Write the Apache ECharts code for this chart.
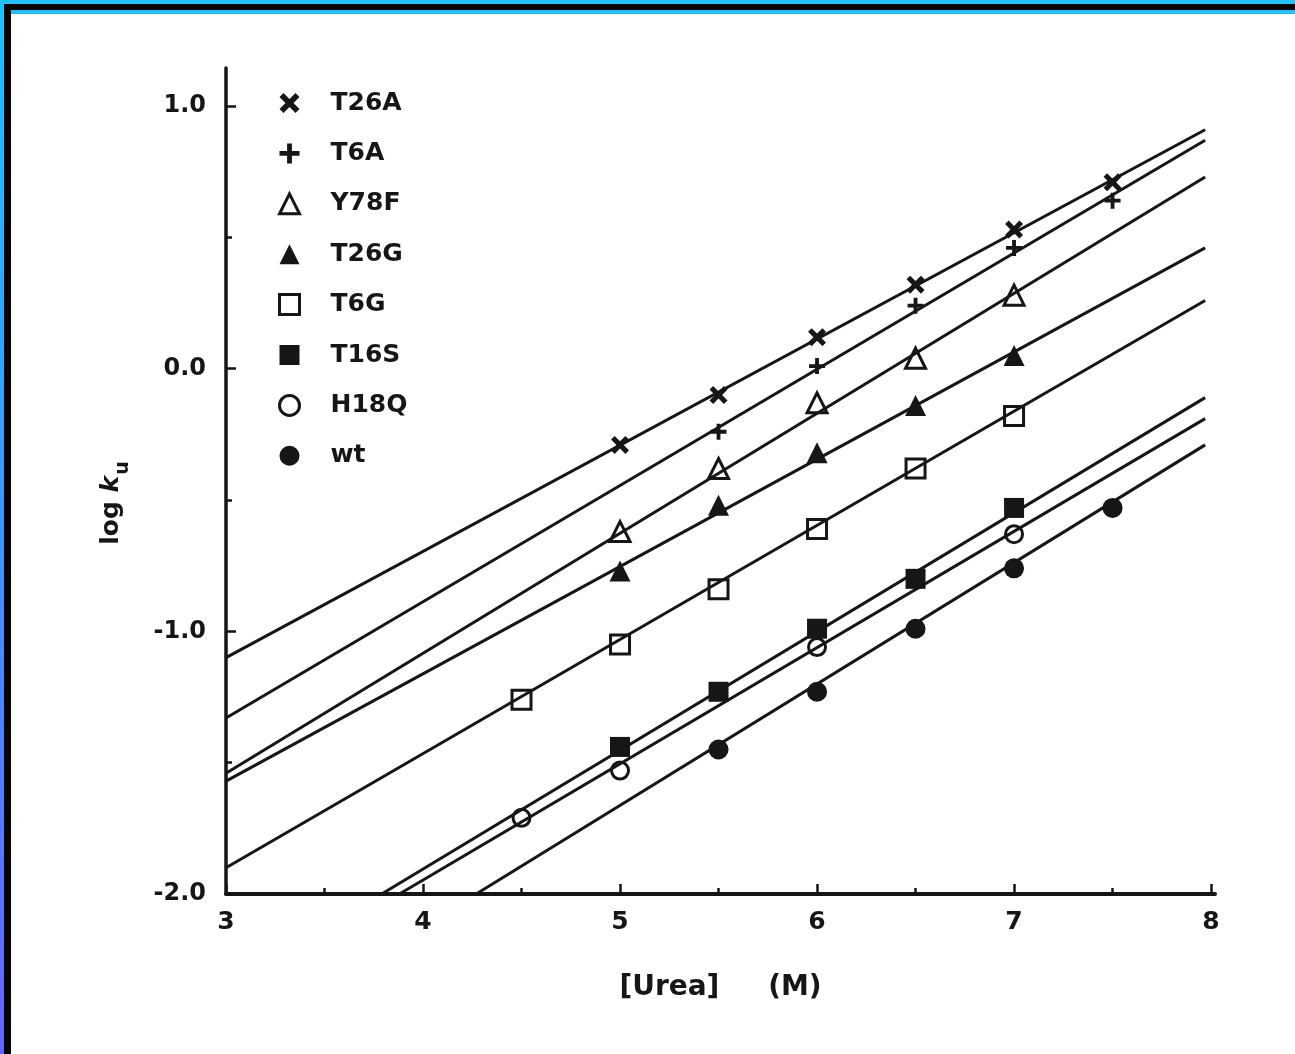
<!DOCTYPE html>
<html>
<head>
<meta charset="utf-8">
<script src="https://cdn.jsdelivr.net/npm/echarts@6/dist/echarts.min.js"></script>
<style>
  html, body { margin:0; padding:0; width:1295px; height:1054px; overflow:hidden; }
  body { background: linear-gradient(to bottom, #1ec2ff 0%, #3f95ff 50%, #6464ff 100%); position:relative; }
  #topbar { position:absolute; left:4px; top:4px; right:0; height:6px; background:#050505; }
  #leftbar { position:absolute; left:4px; top:4px; width:7px; bottom:0; background:#050505; }
  #panel { position:absolute; left:11px; top:14px; right:0; bottom:0; background:#ffffff; }
  #chart { position:absolute; left:0; top:0; width:1295px; height:1054px; }
</style>
</head>
<body>
<div id="topbar"></div>
<div id="leftbar"></div>
<div id="panel"></div>
<div id="chart"></div>
<script>
// ---- data ----
const xTickLabels = [3, 4, 5, 6, 7, 8];
const xMinorTicks = [3.5, 4.5, 5.5, 6.5, 7.5];
const yTickLabels = [-2, -1, 0, 1];
const yMinorTicks = [-1.5, -0.5, 0.5];

const seriesNames = ['T26A', 'T6A', 'Y78F', 'T26G', 'T6G', 'T16S', 'H18Q', 'wt'];

const T26A_x = [5, 5.5, 6, 6.5, 7, 7.5];
const T26A_y = [-0.29, -0.10, 0.12, 0.32, 0.53, 0.71];
const T6A_x  = [5.5, 6, 6.5, 7, 7.5];
const T6A_y  = [-0.24, 0.01, 0.24, 0.46, 0.64];
const Y78F_x = [5, 5.5, 6, 6.5, 7];
const Y78F_y = [-0.62, -0.38, -0.13, 0.04, 0.28];
const T26G_x = [5, 5.5, 6, 6.5, 7];
const T26G_y = [-0.77, -0.52, -0.32, -0.14, 0.05];
const T6G_x  = [4.5, 5, 5.5, 6, 6.5, 7];
const T6G_y  = [-1.26, -1.05, -0.84, -0.61, -0.38, -0.18];
const T16S_x = [5, 5.5, 6, 6.5, 7];
const T16S_y = [-1.44, -1.23, -0.99, -0.80, -0.53];
const H18Q_x = [4.5, 5, 6, 7];
const H18Q_y = [-1.71, -1.53, -1.06, -0.63];
const wt_x   = [5.5, 6, 6.5, 7, 7.5];
const wt_y   = [-1.45, -1.23, -0.99, -0.76, -0.53];

// fitted straight lines: start and end points (x, y)
const fitX0 = [3,     3,     3,     3,     3,     3.79,  3.88,  4.27];
const fitY0 = [-1.10, -1.33, -1.54, -1.57, -1.90, -2.00, -2.00, -2.00];
const fitX1 = [7.97,  7.97,  7.97,  7.97,  7.97,  7.97,  7.97,  7.97];
const fitY1 = [0.91,  0.87,  0.73,  0.46,  0.26,  -0.11, -0.19, -0.29];

// ---- styling ----
const INK = '#161616';
const FONT = 'DejaVu Sans';
const crossPath = 'path://M0,2 L2,0 L5,3 L8,0 L10,2 L7,5 L10,8 L8,10 L5,7 L2,10 L0,8 L3,5 Z';
const plusPath  = 'path://M3.8,0 L6.2,0 L6.2,3.8 L10,3.8 L10,6.2 L6.2,6.2 L6.2,10 L3.8,10 L3.8,6.2 L0,6.2 L0,3.8 L3.8,3.8 Z';
const hollow = { color: 'rgba(255,255,255,0)', borderColor: INK, borderWidth: 3, opacity: 1 };
const solid  = { color: INK, opacity: 1 };
const styles = {
  T26A: { symbol: crossPath, size: 18, item: solid, hollow: false },
  T6A:  { symbol: plusPath,  size: 16, item: solid, hollow: false },
  Y78F: { symbol: 'triangle', size: 20, item: hollow, hollow: true },
  T26G: { symbol: 'triangle', size: 21, item: solid, hollow: false },
  T6G:  { symbol: 'rect',     size: 19, item: hollow, hollow: true },
  T16S: { symbol: 'rect',     size: 20, item: solid, hollow: false },
  H18Q: { symbol: 'circle',   size: 17, item: hollow, hollow: true },
  wt:   { symbol: 'circle',   size: 20, item: solid, hollow: false }
};
const pts = {
  T26A: [T26A_x, T26A_y], T6A: [T6A_x, T6A_y], Y78F: [Y78F_x, Y78F_y], T26G: [T26G_x, T26G_y],
  T6G: [T6G_x, T6G_y], T16S: [T16S_x, T16S_y], H18Q: [H18Q_x, H18Q_y], wt: [wt_x, wt_y]
};

const series = [];
seriesNames.forEach((name, i) => {
  series.push({
    name: name + ' fit', type: 'line', silent: true, z: 2,
    xAxisIndex: 0, yAxisIndex: 0,
    showSymbol: false, symbol: 'none',
    lineStyle: { color: INK, width: 3 },
    data: [[fitX0[i], fitY0[i]], [fitX1[i], fitY1[i]]]
  });
});
seriesNames.forEach((name) => {
  const s = styles[name];
  const xs = pts[name][0], ys = pts[name][1];
  series.push({
    name: name, type: 'scatter', z: 4,
    xAxisIndex: 0, yAxisIndex: 0,
    symbol: s.symbol, symbolSize: s.size,
    itemStyle: s.item,
    emphasis: { disabled: true },
    data: xs.map((x, k) => [x, ys[k]])
  });
});

const legendData = seriesNames.map(name => (
  styles[name].hollow
    ? { name: name, itemStyle: { color: 'rgba(255,255,255,0)', borderColor: INK, borderWidth: 3, opacity: 1 } }
    : { name: name, itemStyle: { color: INK, borderWidth: 0, opacity: 1 } }
));

const chart = echarts.init(document.getElementById('chart'), null, { renderer: 'canvas' });
chart.setOption({
  backgroundColor: 'transparent',
  animation: false,
  grid: { left: 226, right: 80, top: 68, bottom: 160, containLabel: false },
  xAxis: [
    {
      type: 'value', min: 3, max: 8.02, position: 'bottom',
      axisLine: { show: true, onZero: false, lineStyle: { color: INK, width: 4 } },
      axisTick: { show: true, inside: true, length: 10, customValues: xTickLabels, lineStyle: { color: INK, width: 2.5 } },
      axisLabel: { show: true, customValues: xTickLabels, margin: 16, color: INK,
        fontFamily: FONT, fontWeight: 'bold', fontSize: 25, formatter: v => String(v) },
      splitLine: { show: false },
      name: '[Urea]     (M)', nameLocation: 'middle', nameGap: 80,
      nameTextStyle: { color: INK, fontFamily: FONT, fontWeight: 'bold', fontSize: 28 }
    },
    {
      type: 'value', min: 3, max: 8.02, position: 'bottom',
      axisLine: { show: false, onZero: false },
      axisTick: { show: true, inside: true, length: 6, customValues: xMinorTicks, lineStyle: { color: INK, width: 2.5 } },
      axisLabel: { show: false }, splitLine: { show: false }
    }
  ],
  yAxis: [
    {
      type: 'value', min: -2, max: 1.145, position: 'left',
      axisLine: { show: true, onZero: false, lineStyle: { color: INK, width: 3.5 } },
      axisTick: { show: true, inside: true, length: 10, customValues: yTickLabels, lineStyle: { color: INK, width: 2.5 } },
      axisLabel: { show: true, customValues: yTickLabels, margin: 20, color: INK,
        fontFamily: FONT, fontWeight: 'bold', fontSize: 24, formatter: v => v.toFixed(1) },
      splitLine: { show: false }
    },
    {
      type: 'value', min: -2, max: 1.145, position: 'left',
      axisLine: { show: false, onZero: false },
      axisTick: { show: true, inside: true, length: 6, customValues: yMinorTicks, lineStyle: { color: INK, width: 2.5 } },
      axisLabel: { show: false }, splitLine: { show: false }
    }
  ],
  legend: {
    data: legendData,
    orient: 'vertical',
    left: 273, top: 83,
    itemWidth: 20, itemHeight: 20,
    itemGap: 20.4,
    selectedMode: false,
    textStyle: { color: INK, fontFamily: FONT, fontWeight: 'bold', fontSize: 25, lineHeight: 30,
      padding: [0, 0, 0, 26] }
  },
  graphic: [
    {
      type: 'text', x: 112, y: 503, rotation: Math.PI / 2,
      style: {
        text: '{a|log }{i|k}{s|u}',
        align: 'center', verticalAlign: 'middle',
        fill: INK,
        rich: {
          a: { fontFamily: FONT, fontWeight: 'bold', fontSize: 25, lineHeight: 26, verticalAlign: 'top', fill: INK },
          i: { fontFamily: FONT, fontWeight: 'bold', fontStyle: 'italic', fontSize: 25, lineHeight: 26, verticalAlign: 'top', fill: INK },
          s: { fontFamily: FONT, fontWeight: 'bold', fontSize: 19, lineHeight: 19, padding: [15, 0, 0, 1], verticalAlign: 'top', fill: INK }
        }
      }
    }
  ],
  series: series
});
</script>
</body>
</html>
